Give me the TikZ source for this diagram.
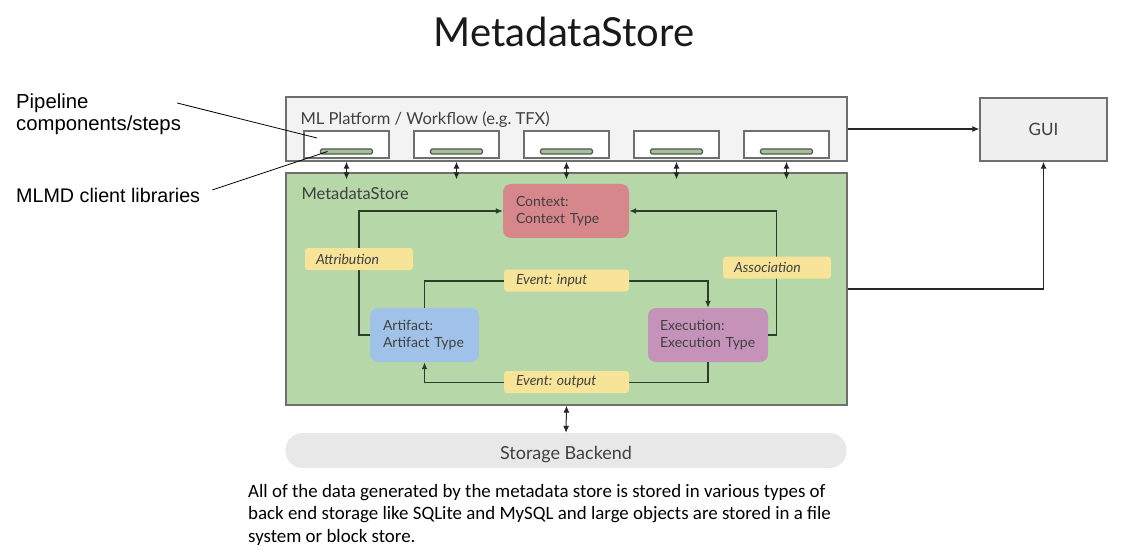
\documentclass[tikz,border=0pt]{standalone}
\usepackage{fontspec}
\setmainfont{Lato}
\newfontfamily\calloutfont{Liberation Sans}
\newfontfamily\notefont{Carlito}
\usepackage{tikz}
\usetikzlibrary{arrows.meta}
\tikzset{>={Latex[length=7pt,width=6pt]}}
\definecolor{framegray}{HTML}{6F6F6F}
\definecolor{platgray}{HTML}{F3F3F3}
\definecolor{guigray}{HTML}{EFEFEF}
\definecolor{storegray}{HTML}{E8E8E8}
\definecolor{storegreen}{HTML}{B6D7A8}
\definecolor{bargray}{HTML}{555555}
\definecolor{ctxred}{HTML}{D6878C}
\definecolor{artblue}{HTML}{A0C2E8}
\definecolor{execpurple}{HTML}{C592BA}
\definecolor{tagyellow}{HTML}{F8E498}
\definecolor{flowgreen}{HTML}{2C3D2A}
\definecolor{inkgray}{HTML}{404040}

\begin{document}
\frenchspacing
\begin{tikzpicture}[x=1pt,y=-1pt]
    \tikzstyle{frame}=[draw=framegray,line width=1.4pt,inner sep=0pt];
    \tikzstyle{compbox}=[frame,fill=white,minimum width=85pt,minimum height=27pt];
    \tikzstyle{libbar}=[draw=bargray,line width=1.1pt,fill=storegreen!90!black,rounded corners=1.5pt,minimum width=52pt,minimum height=5pt,inner sep=0pt];
    \tikzstyle{entity}=[rounded corners=8pt,minimum height=54pt,inner sep=0pt,align=left,text=inkgray,font=\fontsize{14}{17}\selectfont];
    \tikzstyle{tag}=[fill=tagyellow,rounded corners=3pt,minimum height=22pt,inner sep=0pt,align=left,text=inkgray,font=\itshape\fontsize{14}{17}\selectfont];
    \tikzstyle{flow}=[draw=flowgreen,line width=1.4pt];
    \tikzstyle{link}=[draw=black!85,line width=1.2pt];
    \useasboundingbox[fill=white] (0,0) rectangle (1134,556);
    % title
    \node[anchor=base,font=\fontsize{40}{46}\selectfont,text=black!90] (title) at (564,47) {MetadataStore};
    % platform and store
    \node[frame,fill=platgray,minimum width=561pt,minimum height=64pt] (platform) at (566.5,129) {};
    \node[frame,fill=storegreen,minimum width=561pt,minimum height=232pt] (store) at (566.5,289) {};
    \node[anchor=base west,font=\fontsize{16.5}{20}\selectfont,text=inkgray] (platformname) at (297,125) {ML Platform / Workflow (e.g. TFX)};
    \node[anchor=base west,font=\fontsize{16.5}{20}\selectfont,text=inkgray] (storename) at (298,200) {MetadataStore};
    % components with client libraries
    \foreach \i/\x in {1/346.5,2/456.5,3/566.5,4/676.5,5/786.5}{
      \node[compbox] (comp\i) at (\x,144.5) {};
      \node[libbar] (lib\i) at (\x,151.5) {};
      \draw[link,<->,line width=1pt] (lib\i |- platform.south) -- ([yshift=-7pt]lib\i |- store.north);
    }
    % records
    \node[entity,fill=ctxred,minimum width=126pt,text width=100pt] (context) at (566,211) {Context:\\Context Type};
    \node[entity,fill=artblue,minimum width=109pt,text width=83pt] (artifact) at (424.5,335) {Artifact:\\Artifact Type};
    \node[entity,fill=execpurple,minimum width=120pt,text width=96pt] (execution) at (708,335) {Execution:\\Execution Type};
    \draw[flow,->] (artifact.west) -- ++(-11,0) |- (context.west);
    \draw[flow,->] (execution.east) -- ++(8,0) |- (context.east);
    \draw[flow,->] (artifact.north) -- ++(0,-27) -| (execution.north);
    \draw[flow,->] (execution.south) -- ++(0,20) -| (artifact.south);
    \node[tag,minimum width=108pt,text width=86pt] (attribution) at (359,259) {Attribution};
    \node[tag,minimum width=108pt,text width=86pt] (association) at (777,267.5) {Association};
    \node[tag,minimum width=125pt,text width=101pt] (evin) at (566.5,280.5) {Event: input};
    \node[tag,minimum width=125pt,text width=101pt] (evout) at (566.5,382) {Event: output};
    % GUI
    \node[frame,fill=guigray,minimum width=127pt,minimum height=63pt,font=\fontsize{17}{20}\selectfont,text=inkgray] (gui) at (1043.5,129.5) {GUI};
    \draw[link,->] (platform.east) -- (platform.east -| gui.west);
    \draw[link,->] (store.east) -| (gui.south);
    % storage
    \node[fill=storegray,rounded corners=17pt,minimum width=561pt,minimum height=35pt,inner sep=0pt,text height=18pt,text depth=0pt,font=\fontsize{18}{20}\selectfont,text=inkgray] (storage) at (566,450.5) {Storage Backend};
    \draw[link,<->,line width=1pt] (store.south) -- (storage.north);
    % callouts
    \node[anchor=north west,inner sep=0pt,align=left,font=\calloutfont\fontsize{20.3}{21.5}\selectfont] (pipeline) at (16,94) {Pipeline\\components/steps};
    \node[anchor=base west,inner sep=0pt,font=\calloutfont\fontsize{19.7}{21}\selectfont] (mlmd) at (16,202) {MLMD client libraries};
    \coordinate (pipetip) at ([shift={(-29.5,-6.5)}]comp1.center);
    \coordinate (libtip) at ([shift={(-19,0)}]lib1.center);
    \draw[line width=0.8pt] ([shift={(-4,9)}]pipeline.north east) -- (pipetip);
    \draw[line width=0.8pt] ([shift={(12,-5)}]mlmd.east) -- (libtip);
    % note
    \node[anchor=north west,inner sep=0pt,align=left,font=\notefont\fontsize{18.9}{22.5}\selectfont] (note) at (248,484) {All of the data generated by the metadata store is stored in various types of\\back end storage like SQLite and MySQL and large objects are stored in a file\\system or block store.};
\end{tikzpicture}
\end{document}
